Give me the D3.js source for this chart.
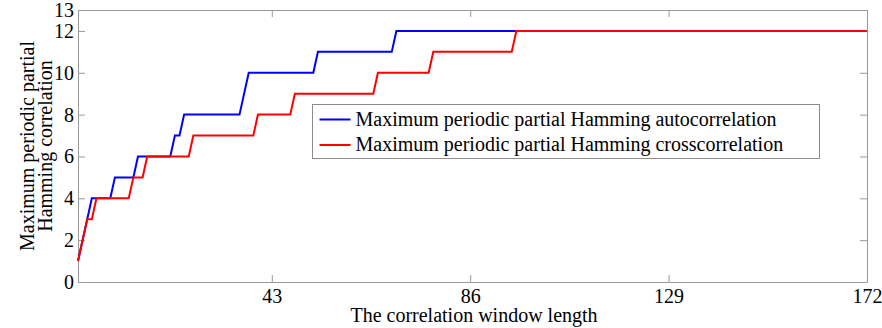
<!DOCTYPE html>
<html>
<head>
<meta charset="utf-8">
<script src="https://cdn.jsdelivr.net/npm/d3@7"></script>
<style>
  body { margin: 0; background: #fff; }
  text { font-family: "Liberation Serif", "Times New Roman", serif; }
</style>
</head>
<body>
<div class="chart"></div>
<script>
// corner points of the two step curves
var autoX = [1, 4, 8, 9, 13, 14, 21, 22, 23, 24, 36, 38, 52, 53, 69, 70, 172];
var autoY = [1, 4, 4, 5, 5, 6, 6, 7, 7, 8, 8, 10, 10, 11, 11, 12, 12];
var crossX = [1, 3, 4, 5, 12, 13, 15, 16, 25, 26, 39, 40, 47, 48, 65, 66, 77, 78, 95, 96, 172];
var crossY = [1, 3, 3, 4, 4, 5, 5, 6, 6, 7, 7, 8, 8, 9, 9, 10, 10, 11, 11, 12, 12];
var xTicks = [43, 86, 129, 172];
var yTicks = [0, 2, 4, 6, 8, 10, 12, 13];
var seriesNames = ["Maximum periodic partial Hamming autocorrelation",
                   "Maximum periodic partial Hamming crosscorrelation"];

function drawChart(){
    var width = 882, height = 328;
    var margin = {top: 10, right: 15, bottom: 46, left: 78};
    var axisColor = "#9a9a9a";
    var serif = '"Liberation Serif", "Times New Roman", serif';

    var svg = d3.select('.chart')
        .append('svg')
        .attr('width', width)
        .attr('height', height);

    var x = d3.scaleLinear()
        .domain([1, 172])
        .range([margin.left, width - margin.right]);
    var y = d3.scaleLinear()
        .domain([0, 13])
        .range([height - margin.bottom, margin.top]);

    // axes on all four sides, ticks pointing inward
    var bottom = svg.append('g')
        .attr('transform', 'translate(0,' + y(0) + ')')
        .call(d3.axisBottom(x).tickValues(xTicks).tickSizeInner(-7).tickSizeOuter(0).tickPadding(7));
    var top = svg.append('g')
        .attr('transform', 'translate(0,' + y(13) + ')')
        .call(d3.axisTop(x).tickValues(xTicks).tickSizeInner(-7).tickSizeOuter(0).tickFormat(''));
    var left = svg.append('g')
        .attr('transform', 'translate(' + x(1) + ',0)')
        .call(d3.axisLeft(y).tickValues(yTicks).tickSizeInner(-7).tickSizeOuter(0).tickPadding(4));
    var right = svg.append('g')
        .attr('transform', 'translate(' + x(172) + ',0)')
        .call(d3.axisRight(y).tickValues(yTicks).tickSizeInner(-7).tickSizeOuter(0).tickFormat(''));

    [bottom, top, left, right].forEach(function(g){
        g.attr('font-family', serif);
        g.selectAll('path, line').attr('stroke', axisColor);
        g.selectAll('text')
            .attr('fill', '#000')
            .style('font-family', serif)
            .style('font-size', '20px');
    });
    bottom.selectAll('text').attr('dy', '0.71em');

    var line = d3.line()
        .x(function(d){ return x(d[0]); })
        .y(function(d){ return y(d[1]); });

    var autoPts = d3.zip(autoX, autoY);
    var crossPts = d3.zip(crossX, crossY);

    svg.append('path')
        .datum(autoPts)
        .attr('d', line)
        .attr('fill', 'none')
        .attr('stroke', '#0000ff')
        .attr('stroke-width', 2);
    svg.append('path')
        .datum(crossPts)
        .attr('d', line)
        .attr('fill', 'none')
        .attr('stroke', '#ff0000')
        .attr('stroke-width', 2);

    // axis titles
    svg.append('text')
        .attr('x', 474)
        .attr('y', 322)
        .attr('text-anchor', 'middle')
        .style('font-size', '20px')
        .text('The correlation window length');

    var yTitle = svg.append('text')
        .attr('transform', 'translate(34,146) rotate(-90)')
        .attr('text-anchor', 'middle')
        .style('font-size', '20px');
    yTitle.append('tspan').attr('x', 0).attr('y', 0).text('Maximum periodic partial');
    yTitle.append('tspan').attr('x', 0).attr('y', 18).text('Hamming correlation');

    // legend
    var legend = svg.append('g').attr('transform', 'translate(312.5,104.5)');
    legend.append('rect')
        .attr('width', 507)
        .attr('height', 54)
        .attr('fill', '#fff')
        .attr('stroke', '#8c8c8c');
    var colors = ['#0000ff', '#ff0000'];
    seriesNames.forEach(function(name, i){
        var cy = 15 + i * 25.5;
        legend.append('line')
            .attr('x1', 7).attr('x2', 38)
            .attr('y1', cy).attr('y2', cy)
            .attr('stroke', colors[i])
            .attr('stroke-width', 2);
        legend.append('text')
            .attr('x', 43)
            .attr('y', cy + 6)
            .style('font-size', '20px')
            .text(name);
    });
}
drawChart();
</script>
</body>
</html>
